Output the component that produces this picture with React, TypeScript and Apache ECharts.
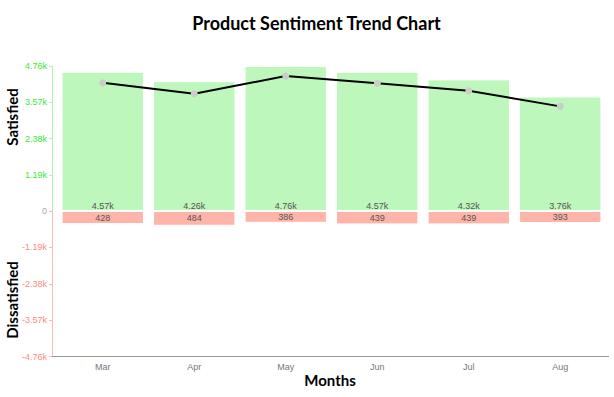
import React, { useEffect, useRef } from "react";
import * as echarts from "echarts";

const months = ["Mar", "Apr", "May", "Jun", "Jul", "Aug"];
const satisfied = [4570, 4260, 4760, 4570, 4320, 3760];
const dissatisfied = [428, 484, 386, 439, 439, 393];
const trend = [4210, 3850, 4430, 4190, 3950, 3435];
const axisMax = 4760;
const axisStep = 1190;

const fmtK = (v: number) => (v === 0 ? "0" : (v / 1000).toFixed(2) + "k");
const SANS = "'Liberation Sans', Arial, sans-serif";

export default function App() {
  const ref = useRef<HTMLDivElement>(null);
  useEffect(() => {
    const chart = echarts.init(ref.current!, null, { renderer: "svg" });
    const gridLeft = 57;
    const gridRight = 8;
    const xAxisBase = {
      type: "category" as const,
      data: months,
      boundaryGap: true,
    };
    chart.setOption({
      animation: false,
      textStyle: { fontFamily: SANS },
      grid: [
        { left: gridLeft, right: gridRight, top: 66, height: 145 },
        { left: gridLeft, right: gridRight, top: 211, height: 145.5 },
      ],
      xAxis: [
        {
          ...xAxisBase,
          gridIndex: 0,
          show: false,
        },
        {
          ...xAxisBase,
          gridIndex: 1,
          position: "bottom",
          axisLine: { show: false },
          axisTick: { show: true, alignWithLabel: true, length: 4, lineStyle: { color: "#999" } },
          axisLabel: { color: "#777", fontSize: 9, margin: 6, fontFamily: SANS },
        },
      ],
      yAxis: [
        {
          type: "value",
          gridIndex: 0,
          min: 0,
          max: axisMax,
          interval: axisStep,
          offset: 5,
          splitLine: { show: false },
          axisLine: { show: true, lineStyle: { color: "#b5f2b5" } },
          axisTick: { show: true, length: 3, lineStyle: { color: "#b5f2b5" } },
          axisLabel: {
            fontSize: 9,
            margin: 5,
            fontFamily: SANS,
            formatter: (v: number) => fmtK(v),
            color: (v: any) => (Number(v) === 0 ? "#aaaaaa" : "#33ee33"),
          },
        },
        {
          type: "value",
          gridIndex: 1,
          min: 0,
          max: axisMax,
          interval: axisStep,
          inverse: true,
          offset: 5,
          splitLine: { show: false },
          axisLine: { show: true, lineStyle: { color: "#ffb8b8" } },
          axisTick: { show: true, length: 3, lineStyle: { color: "#ffb8b8" } },
          axisLabel: {
            fontSize: 9,
            margin: 5,
            fontFamily: SANS,
            color: "#ff8a80",
            formatter: (v: number) => (v === 0 ? "" : "-" + fmtK(v)),
          },
        },
      ],
      series: [
        {
          name: "Satisfied",
          type: "bar",
          xAxisIndex: 0,
          yAxisIndex: 0,
          data: satisfied,
          barCategoryGap: "10%",
          itemStyle: { color: "#bdf7bb", borderColor: "#ffffff", borderWidth: 1 },
          label: {
            show: true,
            position: "insideBottom",
            distance: 1,
            fontSize: 9,
            fontFamily: SANS,
            color: "#555",
            formatter: (p: any) => fmtK(p.value),
          },
          z: 2,
        },
        {
          name: "Dissatisfied",
          type: "bar",
          xAxisIndex: 1,
          yAxisIndex: 1,
          data: dissatisfied,
          barCategoryGap: "10%",
          itemStyle: { color: "#ffb4a9", borderColor: "#ffffff", borderWidth: 1 },
          label: {
            show: true,
            position: "inside",
            fontSize: 9,
            fontFamily: SANS,
            color: "#555",
          },
          z: 2,
        },
        {
          name: "Trend",
          type: "line",
          xAxisIndex: 0,
          yAxisIndex: 0,
          data: trend,
          symbol: "circle",
          symbolSize: 7,
          lineStyle: { color: "#000", width: 2 },
          itemStyle: { color: "#cccccc", borderWidth: 0 },
          z: 5,
        },
      ],
      graphic: [
        {
          type: "line",
          shape: { x1: 52, y1: 356.5, x2: 609, y2: 356.5 },
          style: { stroke: "#999", lineWidth: 1 },
          z: 10,
        },
        {
          type: "text",
          x: 316.5,
          y: 23,
          style: {
            text: "Product Sentiment Trend Chart",
            font: "bold 18px Lato, 'Open Sans', sans-serif",
            fill: "#000",
            textAlign: "center",
            textVerticalAlign: "middle",
          },
        },
        {
          type: "text",
          x: 330,
          y: 380,
          style: {
            text: "Months",
            font: "bold 15px Lato, 'Open Sans', sans-serif",
            fill: "#000",
            textAlign: "center",
            textVerticalAlign: "middle",
          },
        },
        {
          type: "text",
          x: 12,
          y: 117,
          rotation: Math.PI / 2,
          style: {
            text: "Satisfied",
            font: "bold 15px Lato, 'Open Sans', sans-serif",
            fill: "#000",
            textAlign: "center",
            textVerticalAlign: "middle",
          },
        },
        {
          type: "text",
          x: 12,
          y: 300,
          rotation: Math.PI / 2,
          style: {
            text: "Dissatisfied",
            font: "bold 15px Lato, 'Open Sans', sans-serif",
            fill: "#000",
            textAlign: "center",
            textVerticalAlign: "middle",
          },
        },
      ],
    });
    return () => chart.dispose();
  }, []);
  return <div ref={ref} style={{ width: 614, height: 397, position: "absolute", left: 0, top: 0 }} />;
}
